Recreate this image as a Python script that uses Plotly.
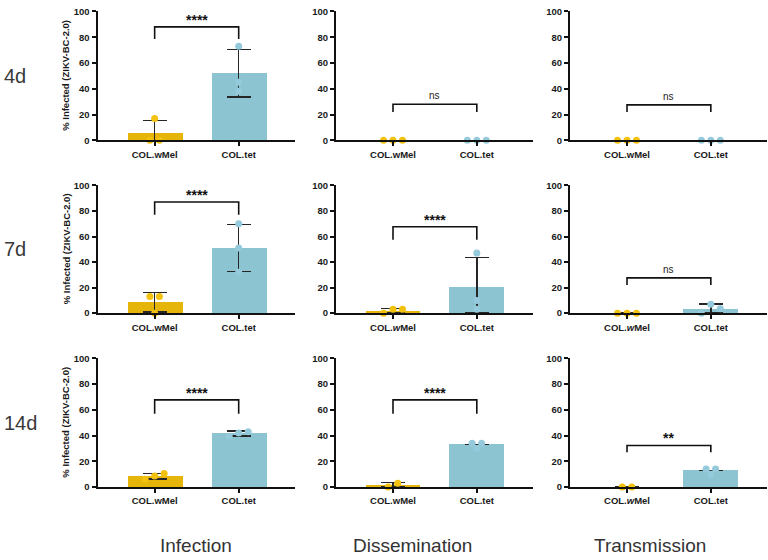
import plotly.graph_objects as go

# ---------------- data ----------------
row_labels = ["4d", "7d", "14d"]
col_labels = ["Infection", "Dissemination", "Transmission"]
group_labels_plain = ["COL.wMel", "COL.tet"]
group_labels_ital = ["COL.<i>w</i>Mel", "COL.tet"]
italic_w = [[False, False, False], [False, True, True], [False, False, True]]

# per row: [Infection, Dissemination, Transmission], each [wMel, tet]
mean_4d = [[5.5, 52.0], [0.0, 0.0], [0.0, 0.0]]
mean_7d = [[8.5, 51.0], [1.5, 20.0], [0.0, 3.0]]
mean_14d = [[8.3, 41.5], [1.0, 33.0], [0.0, 13.0]]

sd_4d = [[10.0, 18.5], [0.0, 0.0], [0.0, 0.0]]
sd_7d = [[7.5, 18.5], [2.3, 23.5], [0.0, 4.0]]
sd_14d = [[2.2, 2.0], [2.5, 0.0], [0.0, 0.0]]

pts_4d = [[[0, 17, 0], [73, 45, 38]], [[0, 0, 0], [0, 0, 0]], [[0, 0, 0], [0, 0, 0]]]
pts_7d = [[[13, 0, 13], [70, 51, 32]], [[0, 3, 3], [47, 10, 3]], [[0, 0, 0], [0, 7, 3.5]]]
pts_14d = [[[6, 8.5, 10.5], [39.5, 42, 43]], [[0, 3], [34, 34, 30]], [[0, 0], [14, 14, 10]]]

sig_4d = ["****", "ns", "ns"]
sig_7d = ["****", "****", "ns"]
sig_14d = ["****", "****", "**"]

# bracket [top, leg end] levels
brk_4d = [[88, 78.5], [28, 22], [27.5, 22]]
brk_7d = [[87, 77], [67.6, 57.4], [27.6, 22]]
brk_14d = [[67.7, 57], [67.7, 57], [32.3, 27]]

means = [mean_4d, mean_7d, mean_14d]
sds = [sd_4d, sd_7d, sd_14d]
pts = [pts_4d, pts_7d, pts_14d]
sigs = [sig_4d, sig_7d, sig_14d]
brks = [brk_4d, brk_7d, brk_14d]

# ---------------- styling ----------------
W, H = 768, 560
FONT = "Liberation Sans, Arial, sans-serif"
bar_colors = ["#E5B50A", "#8CC4D1"]
dot_colors = ["#F3C20E", "#95CADC"]
col_px = [(97.5, 295), (336, 533), (570, 767)]
row_px = [(5.5, 137), (183, 313.3), (359.3, 490.7)]
XR = [-0.68, 1.67]
STEP = 0.113


def swarm(vals, thr=4.0):
    order = sorted(range(len(vals)), key=lambda i: vals[i])
    groups, cur = [], [order[0]]
    for a, b in zip(order, order[1:]):
        if vals[b] - vals[a] < thr:
            cur.append(b)
        else:
            groups.append(cur)
            cur = [b]
    groups.append(cur)
    off = [0.0] * len(vals)
    for g in groups:
        g = sorted(g)
        n = len(g)
        for j, i in enumerate(g):
            off[i] = (j - (n - 1) / 2) * STEP
    return off


fig = go.Figure()
shapes, annots = [], []
layout = {}

for r in range(3):
    for c in range(3):
        k = r * 3 + c + 1
        xa = "x" if k == 1 else f"x{k}"
        ya = "y" if k == 1 else f"y{k}"
        m = means[r][c]
        s = sds[r][c]
        up = [v if v > 0 else None for v in s]
        dn = [min(v, mm) if v > 0 else None for v, mm in zip(s, m)]
        fig.add_trace(go.Bar(
            x=[0, 1], y=m, width=0.655, marker=dict(color=bar_colors, line=dict(width=0)),
            error_y=dict(type="data", array=up, arrayminus=dn, symmetric=False,
                         color="#262626", thickness=1.5, width=12, visible=True),
            xaxis=xa, yaxis=ya, showlegend=False, hoverinfo="skip"))
        for g in range(2):
            vals = pts[r][c][g]
            off = swarm(vals)
            fig.add_trace(go.Scatter(
                x=[g + o for o in off], y=vals, mode="markers",
                marker=dict(size=7, color=dot_colors[g], line=dict(width=0)),
                cliponaxis=False, xaxis=xa, yaxis=ya, showlegend=False, hoverinfo="skip"))
        # significance bracket
        top, leg = brks[r][c]
        shapes.append(dict(type="path", xref=xa, yref=ya,
                           path=f"M 0,{leg} L 0,{top} L 1,{top} L 1,{leg}",
                           line=dict(color="#111", width=1.6)))
        lab = sigs[r][c]
        if lab == "ns":
            annots.append(dict(x=0.5, y=top, xref=xa, yref=ya, text=lab, showarrow=False,
                               yanchor="bottom", yshift=1,
                               font=dict(family=FONT, size=10, color="#222")))
        else:
            annots.append(dict(x=0.5, y=top, xref=xa, yref=ya, text=lab, showarrow=False,
                               yanchor="bottom", yshift=-3,
                               font=dict(family=FONT, size=14, color="#111", weight="bold")))
        x0, x1 = col_px[c]
        y0, y1 = row_px[r]
        ticktext = group_labels_ital if italic_w[r][c] else group_labels_plain
        layout["xaxis" if k == 1 else f"xaxis{k}"] = dict(
            domain=[x0 / W, x1 / W], anchor=ya, range=XR, tickmode="array",
            tickvals=[0, 1], ticktext=ticktext, ticks="outside", ticklen=4, tickwidth=1.5,
            tickcolor="#111", showline=True, linewidth=2, linecolor="#111",
            showgrid=False, zeroline=False,
            tickfont=dict(family=FONT, size=9.5, color="#1a1a1a", weight="bold"),
            fixedrange=True)
        layout["yaxis" if k == 1 else f"yaxis{k}"] = dict(
            domain=[1 - y1 / H, 1 - y0 / H], anchor=xa, range=[0, 100], tickmode="array",
            tickvals=[0, 20, 40, 60, 80, 100], ticks="outside", ticklen=4, tickwidth=1.5,
            tickcolor="#111", showline=True, linewidth=2, linecolor="#111",
            showgrid=False, zeroline=False,
            tickfont=dict(family=FONT, size=9.5, color="#1a1a1a", weight="bold"),
            ticklabelstandoff=0, fixedrange=True)

# y-axis titles (first column) and row labels
for r in range(3):
    y0, y1 = row_px[r]
    yc = 1 - (y0 + y1) / 2 / H
    annots.append(dict(x=66 / W, y=yc, xref="paper", yref="paper", text="% Infected (ZIKV-BC-2.0)",
                       textangle=-90, showarrow=False, xanchor="center", yanchor="middle",
                       font=dict(family=FONT, size=9.5, color="#1a1a1a", weight="bold")))
    annots.append(dict(x=2 / W, y=yc, xref="paper", yref="paper", text=row_labels[r],
                       showarrow=False, xanchor="left", yanchor="middle",
                       font=dict(family=FONT, size=20, color="#3a3a3a")))

col_label_x = [196, 412, 650]
for c in range(3):
    annots.append(dict(x=col_label_x[c] / W, y=1 - 550 / H, xref="paper", yref="paper",
                       text=col_labels[c], showarrow=False, xanchor="center", yanchor="middle",
                       font=dict(family=FONT, size=19, color="#333")))

fig.update_layout(width=W, height=H, margin=dict(l=0, r=0, t=0, b=0),
                  paper_bgcolor="white", plot_bgcolor="white", bargap=0,
                  shapes=shapes, annotations=annots, **layout)

fig.write_html("out.html", config={"displayModeBar": False},
               post_script="document.body.style.margin='0';document.body.style.overflow='hidden';")
